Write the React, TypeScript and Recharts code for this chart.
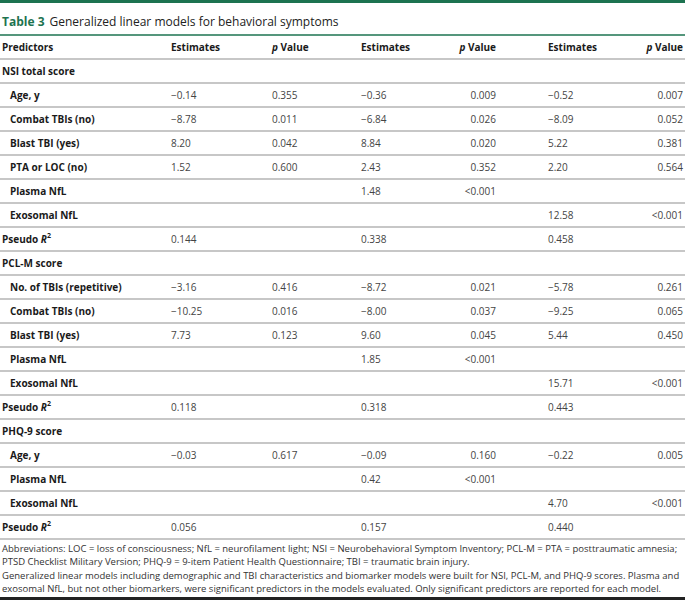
import React from 'react';
import { BarChart, Bar, XAxis, YAxis } from 'recharts';

// column headers
const headers = ['Predictors', 'Estimates', 'p Value', 'Estimates', 'p Value', 'Estimates', 'p Value'];

// body rows
const predictors = [
  'NSI total score', 'Age, y', 'Combat TBIs (no)', 'Blast TBI (yes)', 'PTA or LOC (no)', 'Plasma NfL', 'Exosomal NfL', 'Pseudo R2',
  'PCL-M score', 'No. of TBIs (repetitive)', 'Combat TBIs (no)', 'Blast TBI (yes)', 'Plasma NfL', 'Exosomal NfL', 'Pseudo R2',
  'PHQ-9 score', 'Age, y', 'Plasma NfL', 'Exosomal NfL', 'Pseudo R2',
];
const rowKinds = [
  'section', 'item', 'item', 'item', 'item', 'item', 'item', 'r2',
  'section', 'item', 'item', 'item', 'item', 'item', 'r2',
  'section', 'item', 'item', 'item', 'r2',
];
const model1Est = [null, -0.14, -8.78, 8.2, 1.52, null, null, 0.144, null, -3.16, -10.25, 7.73, null, null, 0.118, null, -0.03, null, null, 0.056];
const model1P = [null, 0.355, 0.011, 0.042, 0.6, null, null, null, null, 0.416, 0.016, 0.123, null, null, null, null, 0.617, null, null, null];
const model2Est = [null, -0.36, -6.84, 8.84, 2.43, 1.48, null, 0.338, null, -8.72, -8.0, 9.6, 1.85, null, 0.318, null, -0.09, 0.42, null, 0.157];
const model2P = [null, 0.009, 0.026, 0.02, 0.352, '<0.001', null, null, null, 0.021, 0.037, 0.045, '<0.001', null, null, null, 0.16, '<0.001', null, null];
const model3Est = [null, -0.52, -8.09, 5.22, 2.2, null, 12.58, 0.458, null, -5.78, -9.25, 5.44, null, 15.71, 0.443, null, -0.22, null, 4.7, 0.44];
const model3P = [null, 0.007, 0.052, 0.381, 0.564, null, '<0.001', null, null, 0.261, 0.065, 0.45, null, '<0.001', null, null, 0.005, null, '<0.001', null];

const footnotes = [
  'Abbreviations: LOC = loss of consciousness; NfL = neurofilament light; NSI = Neurobehavioral Symptom Inventory; PCL-M = PTA = posttraumatic amnesia;',
  'PTSD Checklist Military Version; PHQ-9 = 9-item Patient Health Questionnaire; TBI = traumatic brain injury.',
  'Generalized linear models including demographic and TBI characteristics and biomarker models were built for NSI, PCL-M, and PHQ-9 scores. Plasma and',
  'exosomal NfL, but not other biomarkers, were significant predictors in the models evaluated. Only significant predictors are reported for each model.',
];

const FONT = '"Open Sans", sans-serif';
const GREEN = '#1d7350';
const ROW_H = 24;

const fmt = (v, digits) => {
  if (v === null || v === undefined) return '';
  if (typeof v === 'string') return v;
  return v.toFixed(digits).replace('-', '\u2212');
};

const tableRows = [
  { id: 'h', kind: 'head', span: 1, label: headers[0], e1: headers[1], p1: headers[2], e2: headers[3], p2: headers[4], e3: headers[5], p3: headers[6] },
  ...predictors.map((label, i) => {
    const d = rowKinds[i] === 'r2' ? 3 : 2;
    return {
      id: `r${i}`,
      kind: rowKinds[i],
      span: 1,
      label,
      e1: fmt(model1Est[i], d),
      p1: fmt(model1P[i], 3),
      e2: fmt(model2Est[i], d),
      p2: fmt(model2P[i], 3),
      e3: fmt(model3Est[i], d),
      p3: fmt(model3P[i], 3),
    };
  }),
];

// column anchors (layout)
const columns = [
  { key: 'e1', x: 171, anchor: 'start' },
  { key: 'p1', x: 272, anchor: 'start' },
  { key: 'e2', x: 361, anchor: 'start' },
  { key: 'p2', x: 496, anchor: 'end' },
  { key: 'e3', x: 548, anchor: 'start' },
  { key: 'p3', x: 683, anchor: 'end' },
];

const RowShape = (props) => {
  const { x, y, width, height, payload } = props;
  const cy = y + height / 2;
  const isHead = payload.kind === 'head';
  const labelX = x + (payload.kind === 'item' ? 10 : 2);

  let labelContent = payload.label;
  if (payload.kind === 'r2') {
    labelContent = (
      <>
        <tspan>Pseudo </tspan>
        <tspan fontStyle="italic">R</tspan>
        <tspan dy={-4} fontSize={7}>2</tspan>
      </>
    );
  }

  return (
    <g>
      {isHead && <line x1={x} x2={x + width} y1={y} y2={y} stroke={GREEN} strokeWidth={1.5} />}
      <line x1={x} x2={x + width} y1={y + height} y2={y + height} stroke="#b4b4b4" strokeWidth={1.6} />
      <text x={labelX} y={cy} dominantBaseline="central" fontFamily={FONT} fontSize={10} fontWeight={700} fill="#1a1a1a">
        {labelContent}
      </text>
      {columns.map((c) => {
        const v = payload[c.key];
        if (!v) return null;
        const isP = isHead && v === 'p Value';
        return (
          <text
            key={c.key}
            x={x + c.x}
            y={cy}
            textAnchor={c.anchor}
            dominantBaseline="central"
            fontFamily={FONT}
            fontSize={10}
            fontWeight={isHead ? 700 : 400}
            fill={isHead ? '#1a1a1a' : '#444'}
          >
            {isP ? (
              <>
                <tspan fontStyle="italic">p</tspan>
                <tspan> Value</tspan>
              </>
            ) : (
              v
            )}
          </text>
        );
      })}
    </g>
  );
};

export default function App() {
  return (
    <div style={{ position: 'absolute', left: 0, top: 0, width: 685, height: 600, background: '#fff', overflow: 'hidden', fontFamily: FONT }}>
      <div style={{ position: 'absolute', left: 0, top: 0, width: 685, height: 3, background: GREEN }} />
      <div style={{ position: 'absolute', left: 2, top: 14, fontSize: 12, lineHeight: '16px', whiteSpace: 'nowrap', color: '#222' }}>
        <span style={{ color: GREEN, fontWeight: 700 }}>Table 3</span>
        <span style={{ marginLeft: 5 }}>Generalized linear models for behavioral symptoms</span>
      </div>
      <div style={{ position: 'absolute', left: 0, top: 33 }}>
        <BarChart
          width={685}
          height={tableRows.length * ROW_H + 4}
          data={tableRows}
          layout="vertical"
          margin={{ top: 2, right: 0, bottom: 2, left: 0 }}
          barCategoryGap={0}
        >
          <XAxis type="number" domain={[0, 1]} hide />
          <YAxis type="category" dataKey="id" hide />
          <Bar dataKey="span" shape={<RowShape />} isAnimationActive={false} />
        </BarChart>
      </div>
      <div style={{ position: 'absolute', left: 2, top: 542, fontSize: 9.5, lineHeight: '13.3px', color: '#333', whiteSpace: 'nowrap' }}>
        {footnotes.map((t, i) => (
          <div key={i}>{t}</div>
        ))}
      </div>
      <div style={{ position: 'absolute', left: 0, top: 597, width: 685, height: 3, background: '#222' }} />
    </div>
  );
}
